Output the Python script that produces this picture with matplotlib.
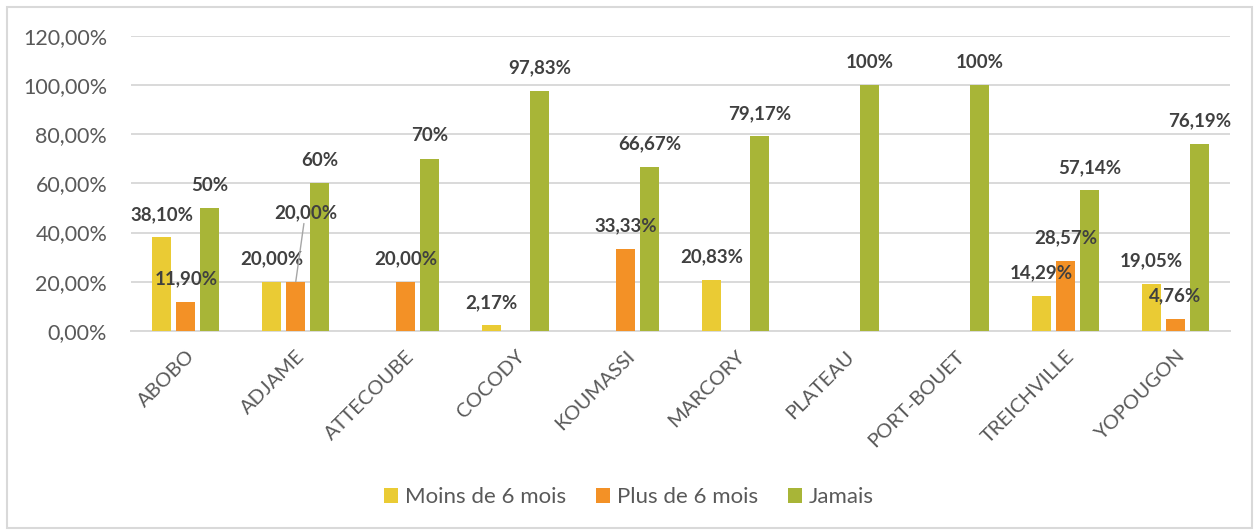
import numpy as np
import matplotlib
matplotlib.use("Agg")
import matplotlib.pyplot as plt
from matplotlib.patches import Rectangle

communes = ["ABOBO", "ADJAME", "ATTECOUBE", "COCODY", "KOUMASSI",
            "MARCORY", "PLATEAU", "PORT-BOUET", "TREICHVILLE", "YOPOUGON"]
moins_6_mois = [38.10, 20.00, 0, 2.17, 0, 20.83, 0, 0, 14.29, 19.05]
plus_6_mois = [11.90, 20.00, 20.00, 0, 33.33, 0, 0, 0, 28.57, 4.76]
jamais = [50, 60, 70, 97.83, 66.67, 79.17, 100, 100, 57.14, 76.19]
series_names = ["Moins de 6 mois", "Plus de 6 mois", "Jamais"]
y_ticks = [0, 20, 40, 60, 80, 100, 120]

colors = ["#EACB34", "#F39126", "#A8B537"]
grey_text = "#595959"
label_text = "#404040"
grid_col = "#D9D9D9"

plt.rcParams["font.family"] = ["Lato", "DejaVu Sans"]


def fmt_pct(v, keep_decimals):
    if not keep_decimals and float(v).is_integer():
        return f"{int(v)}%"
    return f"{v:.2f}%".replace(".", ",")


fig = plt.figure(figsize=(12.58, 5.31), dpi=100)
ax = fig.add_axes([0.104, 0.377, 0.874, 0.555])

# outer chart border
fig.patches.append(Rectangle((7 / 1258, 3 / 531), 1245 / 1258, 521 / 531,
                             transform=fig.transFigure, fill=False,
                             edgecolor=grid_col, linewidth=1.5))

x = np.arange(len(communes))
width = 0.173
step = 0.218
all_series = [moins_6_mois, plus_6_mois, jamais]

# labels that were moved by hand in the original (series, commune): offset in points
moved = {(1, 1): (7, 50)}

for s, values in enumerate(all_series):
    pos = x + (s - 1) * step
    ax.bar(pos, values, width, color=colors[s], label=series_names[s], zorder=3)
    for i, v in enumerate(values):
        if v == 0:
            continue
        txt = fmt_pct(v, keep_decimals=(s != 2))
        if (s, i) in moved:
            ax.annotate(txt, (pos[i], v), xytext=moved[(s, i)],
                        textcoords="offset points", ha="center", va="center",
                        fontsize=13.5, fontweight="bold", color=label_text, zorder=6,
                        arrowprops=dict(arrowstyle="-", color="#A6A6A6",
                                        lw=1, shrinkA=0, shrinkB=0))
        else:
            ax.annotate(txt, (pos[i], v), xytext=(0, 16.5),
                        textcoords="offset points", ha="center", va="center",
                        fontsize=13.5, fontweight="bold", color=label_text, zorder=6)

ax.set_xlim(-0.5, len(communes) - 0.5)
ax.set_ylim(0, 120)
ax.set_yticks(y_ticks)
ax.set_yticklabels([fmt_pct(t, True) for t in y_ticks], fontsize=15.5, color=grey_text)
ax.set_xticks(x)
ax.set_xticklabels(communes, rotation=45, ha="right", va="top",
                   rotation_mode="anchor", fontsize=14.5, color=grey_text)
ax.tick_params(axis="both", length=0)
ax.tick_params(axis="y", pad=17)
ax.tick_params(axis="x", pad=12)

ax.yaxis.grid(True, color=grid_col, linewidth=1.4)
ax.set_axisbelow(True)
for side in ["top", "right", "left"]:
    ax.spines[side].set_visible(False)
ax.spines["bottom"].set_color(grid_col)
ax.spines["bottom"].set_linewidth(1.4)

fig.legend(loc="center", bbox_to_anchor=(0.5, 1 - 497 / 531), ncol=3,
           frameon=False, fontsize=16, handlelength=0.64, handleheight=0.64,
           handletextpad=0.3, columnspacing=1.35, labelcolor=grey_text)

fig.savefig("out.png", dpi=100)
